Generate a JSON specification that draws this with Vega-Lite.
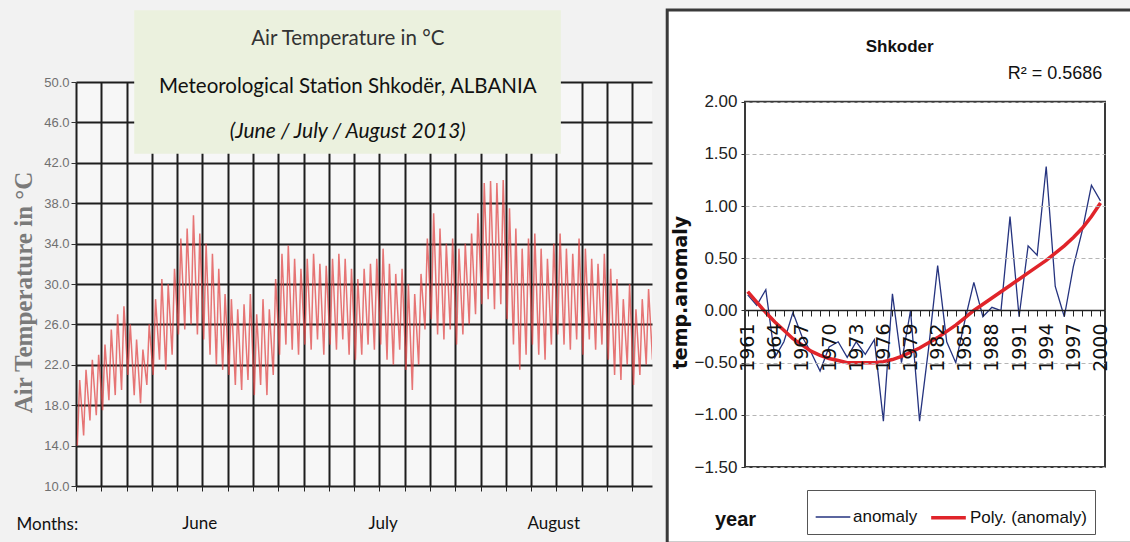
{
  "$schema": "https://vega.github.io/schema/vega-lite/v6.json",
  "background": "#f2f2f2",
  "padding": {"left": 11, "top": 8, "right": 0, "bottom": 0},
  "spacing": 13,
  "config": {"view": {"stroke": null}},
  "hconcat": [
    {
      "width": 576,
      "height": 404,
      "view": {"fill": "#f7f7f7", "stroke": null},
      "encoding": {
        "x": {"field": "date", "type": "temporal",
          "scale": {"domain": [{"year": 2013, "month": 6, "date": 1}, {"year": 2013, "month": 8, "date": 31, "hours": 3}], "nice": false},
          "axis": {
            "values": [
              {"year": 2013, "month": 6, "date": 1}, {"year": 2013, "month": 6, "date": 5}, {"year": 2013, "month": 6, "date": 9},
              {"year": 2013, "month": 6, "date": 13}, {"year": 2013, "month": 6, "date": 17}, {"year": 2013, "month": 6, "date": 21},
              {"year": 2013, "month": 6, "date": 25}, {"year": 2013, "month": 6, "date": 29}, {"year": 2013, "month": 7, "date": 3},
              {"year": 2013, "month": 7, "date": 7}, {"year": 2013, "month": 7, "date": 11}, {"year": 2013, "month": 7, "date": 15},
              {"year": 2013, "month": 7, "date": 19}, {"year": 2013, "month": 7, "date": 23}, {"year": 2013, "month": 7, "date": 27},
              {"year": 2013, "month": 7, "date": 31}, {"year": 2013, "month": 8, "date": 4}, {"year": 2013, "month": 8, "date": 8},
              {"year": 2013, "month": 8, "date": 12}, {"year": 2013, "month": 8, "date": 16}, {"year": 2013, "month": 8, "date": 20},
              {"year": 2013, "month": 8, "date": 24}, {"year": 2013, "month": 8, "date": 28},
              {"year": 2013, "month": 6, "date": 20, "hours": 12}, {"year": 2013, "month": 7, "date": 19, "hours": 12}, {"year": 2013, "month": 8, "date": 15, "hours": 12}
            ],
            "labelExpr": "hours(datum.value) == 12 ? timeFormat(datum.value, '%B') : ''",
            "labelFont": "Lato", "labelFontSize": 17, "labelColor": "#111", "labelPadding": 24,
            "labelOverlap": false, "labelFlush": false, "labelAngle": 0,
            "title": "Months:", "titleX": -60, "titleY": 38, "titleAlign": "left", "titleBaseline": "middle",
            "titleFont": "Lato", "titleFontSize": 17, "titleFontWeight": "normal", "titleColor": "#111",
            "domain": false,
            "grid": true, "gridColor": "#1e1e1e", "gridWidth": 2,
            "gridOpacity": {"condition": {"test": "hours(datum.value) != 0", "value": 0}, "value": 1},
            "ticks": true, "tickSize": 5, "tickColor": "#222",
            "tickOpacity": {"condition": {"test": "hours(datum.value) != 0", "value": 0}, "value": 1}
          }
        },
        "y": {"field": "t", "type": "quantitative",
          "scale": {"domain": [10, 50], "nice": false, "zero": false},
          "axis": {
            "values": [10, 14, 18, 22, 26, 30, 34, 38, 42, 46, 50], "format": ".1f",
            "labelFont": "Liberation Sans Narrow, Liberation Sans, sans-serif", "labelFontSize": 13, "labelColor": "#707070", "labelPadding": 2,
            "tickSize": 5, "tickColor": "#333", "domain": false,
            "grid": true, "gridColor": "#1e1e1e", "gridWidth": 2,
            "title": "Air Temperature in °C", "titleX": -53, "titleY": 210, "titleAngle": -90,
            "titleAlign": "center", "titleBaseline": "middle",
            "titleFont": "Liberation Serif", "titleFontSize": 25, "titleFontWeight": "bold", "titleColor": "#7a7a7a"
          }
        }
      },
      "layer": [
        {
          "data": {"values": [{"date": "2013-06-10T05:00", "date2": "2013-08-16T17:00", "t": 42.9, "t2": 57.1}]},
          "mark": {"type": "rect", "fill": "#ebf1de"},
          "encoding": {"x2": {"field": "date2"}, "y2": {"field": "t2"}}
        },
        {
          "data": {"values": [{"date": "2013-07-14T00:00", "t": 54.3, "label": "Air Temperature in °C"}]},
          "mark": {"type": "text", "font": "Lato", "fontSize": 20.5, "color": "#333", "baseline": "middle", "align": "center"},
          "encoding": {"text": {"field": "label"}}
        },
        {
          "data": {"values": [{"date": "2013-07-14T00:00", "t": 49.5, "label": "Meteorological Station Shkodër, ALBANIA"}]},
          "mark": {"type": "text", "font": "Lato", "fontSize": 20.5, "color": "#111", "baseline": "middle", "align": "center"},
          "encoding": {"text": {"field": "label"}}
        },
        {
          "data": {"values": [{"date": "2013-07-14T00:00", "t": 45.05, "label": "(June / July / August 2013)"}]},
          "mark": {"type": "text", "font": "Lato", "fontSize": 21, "fontStyle": "italic", "color": "#111", "baseline": "middle", "align": "center"},
          "encoding": {"text": {"field": "label"}}
        },
        {
          "data": {"values": [
            {"date": "2013-06-01T05:00", "t": 14.0}, {"date": "2013-06-01T14:00", "t": 20.5},
            {"date": "2013-06-02T05:00", "t": 15.0}, {"date": "2013-06-02T14:00", "t": 21.5},
            {"date": "2013-06-03T05:00", "t": 16.5}, {"date": "2013-06-03T14:00", "t": 22.5},
            {"date": "2013-06-04T05:00", "t": 17.0}, {"date": "2013-06-04T14:00", "t": 23.0},
            {"date": "2013-06-05T05:00", "t": 17.5}, {"date": "2013-06-05T14:00", "t": 24.0},
            {"date": "2013-06-06T05:00", "t": 18.5}, {"date": "2013-06-06T14:00", "t": 25.5},
            {"date": "2013-06-07T05:00", "t": 19.0}, {"date": "2013-06-07T14:00", "t": 27.0},
            {"date": "2013-06-08T05:00", "t": 19.5}, {"date": "2013-06-08T14:00", "t": 27.8},
            {"date": "2013-06-09T05:00", "t": 21.0}, {"date": "2013-06-09T14:00", "t": 26.0},
            {"date": "2013-06-10T05:00", "t": 19.0}, {"date": "2013-06-10T14:00", "t": 24.5},
            {"date": "2013-06-11T05:00", "t": 18.2}, {"date": "2013-06-11T14:00", "t": 23.5},
            {"date": "2013-06-12T05:00", "t": 20.0}, {"date": "2013-06-12T14:00", "t": 26.0},
            {"date": "2013-06-13T05:00", "t": 21.0}, {"date": "2013-06-13T14:00", "t": 28.5},
            {"date": "2013-06-14T05:00", "t": 22.5}, {"date": "2013-06-14T14:00", "t": 30.5},
            {"date": "2013-06-15T05:00", "t": 21.5}, {"date": "2013-06-15T14:00", "t": 30.0},
            {"date": "2013-06-16T05:00", "t": 23.0}, {"date": "2013-06-16T14:00", "t": 31.5},
            {"date": "2013-06-17T05:00", "t": 25.0}, {"date": "2013-06-17T14:00", "t": 34.5},
            {"date": "2013-06-18T05:00", "t": 25.5}, {"date": "2013-06-18T14:00", "t": 35.5},
            {"date": "2013-06-19T05:00", "t": 26.0}, {"date": "2013-06-19T14:00", "t": 36.8},
            {"date": "2013-06-20T05:00", "t": 25.0}, {"date": "2013-06-20T14:00", "t": 35.0},
            {"date": "2013-06-21T05:00", "t": 24.5}, {"date": "2013-06-21T14:00", "t": 34.0},
            {"date": "2013-06-22T05:00", "t": 23.0}, {"date": "2013-06-22T14:00", "t": 33.0},
            {"date": "2013-06-23T05:00", "t": 22.0}, {"date": "2013-06-23T14:00", "t": 31.5},
            {"date": "2013-06-24T05:00", "t": 21.5}, {"date": "2013-06-24T14:00", "t": 29.0},
            {"date": "2013-06-25T05:00", "t": 21.0}, {"date": "2013-06-25T14:00", "t": 28.5},
            {"date": "2013-06-26T05:00", "t": 20.0}, {"date": "2013-06-26T14:00", "t": 27.5},
            {"date": "2013-06-27T05:00", "t": 19.5}, {"date": "2013-06-27T14:00", "t": 28.0},
            {"date": "2013-06-28T05:00", "t": 20.5}, {"date": "2013-06-28T14:00", "t": 29.0},
            {"date": "2013-06-29T05:00", "t": 19.0}, {"date": "2013-06-29T14:00", "t": 27.0},
            {"date": "2013-06-30T05:00", "t": 20.0}, {"date": "2013-06-30T14:00", "t": 28.5},
            {"date": "2013-07-01T05:00", "t": 19.0}, {"date": "2013-07-01T14:00", "t": 27.5},
            {"date": "2013-07-02T05:00", "t": 21.0}, {"date": "2013-07-02T14:00", "t": 30.5},
            {"date": "2013-07-03T05:00", "t": 23.0}, {"date": "2013-07-03T14:00", "t": 33.0},
            {"date": "2013-07-04T05:00", "t": 24.0}, {"date": "2013-07-04T14:00", "t": 33.8},
            {"date": "2013-07-05T05:00", "t": 23.5}, {"date": "2013-07-05T14:00", "t": 32.5},
            {"date": "2013-07-06T05:00", "t": 23.0}, {"date": "2013-07-06T14:00", "t": 31.5},
            {"date": "2013-07-07T05:00", "t": 24.0}, {"date": "2013-07-07T14:00", "t": 32.5},
            {"date": "2013-07-08T05:00", "t": 23.5}, {"date": "2013-07-08T14:00", "t": 33.0},
            {"date": "2013-07-09T05:00", "t": 24.5}, {"date": "2013-07-09T14:00", "t": 32.0},
            {"date": "2013-07-10T05:00", "t": 23.0}, {"date": "2013-07-10T14:00", "t": 31.8},
            {"date": "2013-07-11T05:00", "t": 24.0}, {"date": "2013-07-11T14:00", "t": 32.5},
            {"date": "2013-07-12T05:00", "t": 23.5}, {"date": "2013-07-12T14:00", "t": 33.0},
            {"date": "2013-07-13T05:00", "t": 24.5}, {"date": "2013-07-13T14:00", "t": 32.5},
            {"date": "2013-07-14T05:00", "t": 23.0}, {"date": "2013-07-14T14:00", "t": 31.5},
            {"date": "2013-07-15T05:00", "t": 22.5}, {"date": "2013-07-15T14:00", "t": 30.5},
            {"date": "2013-07-16T05:00", "t": 23.0}, {"date": "2013-07-16T14:00", "t": 31.5},
            {"date": "2013-07-17T05:00", "t": 24.0}, {"date": "2013-07-17T14:00", "t": 32.0},
            {"date": "2013-07-18T05:00", "t": 23.5}, {"date": "2013-07-18T14:00", "t": 32.5},
            {"date": "2013-07-19T05:00", "t": 24.0}, {"date": "2013-07-19T14:00", "t": 33.5},
            {"date": "2013-07-20T05:00", "t": 22.5}, {"date": "2013-07-20T14:00", "t": 32.0},
            {"date": "2013-07-21T05:00", "t": 22.0}, {"date": "2013-07-21T14:00", "t": 31.0},
            {"date": "2013-07-22T05:00", "t": 23.5}, {"date": "2013-07-22T14:00", "t": 31.5},
            {"date": "2013-07-23T05:00", "t": 21.5}, {"date": "2013-07-23T14:00", "t": 30.0},
            {"date": "2013-07-24T05:00", "t": 19.5}, {"date": "2013-07-24T14:00", "t": 29.0},
            {"date": "2013-07-25T05:00", "t": 22.0}, {"date": "2013-07-25T14:00", "t": 31.0},
            {"date": "2013-07-26T05:00", "t": 25.5}, {"date": "2013-07-26T14:00", "t": 34.5},
            {"date": "2013-07-27T05:00", "t": 26.5}, {"date": "2013-07-27T14:00", "t": 37.0},
            {"date": "2013-07-28T05:00", "t": 25.0}, {"date": "2013-07-28T14:00", "t": 35.5},
            {"date": "2013-07-29T05:00", "t": 24.5}, {"date": "2013-07-29T14:00", "t": 34.0},
            {"date": "2013-07-30T05:00", "t": 25.5}, {"date": "2013-07-30T14:00", "t": 34.5},
            {"date": "2013-07-31T05:00", "t": 24.0}, {"date": "2013-07-31T14:00", "t": 33.5},
            {"date": "2013-08-01T05:00", "t": 25.0}, {"date": "2013-08-01T14:00", "t": 34.0},
            {"date": "2013-08-02T05:00", "t": 26.0}, {"date": "2013-08-02T14:00", "t": 35.0},
            {"date": "2013-08-03T05:00", "t": 27.0}, {"date": "2013-08-03T14:00", "t": 37.0},
            {"date": "2013-08-04T05:00", "t": 28.0}, {"date": "2013-08-04T14:00", "t": 40.0},
            {"date": "2013-08-05T05:00", "t": 28.5}, {"date": "2013-08-05T14:00", "t": 40.2},
            {"date": "2013-08-06T05:00", "t": 27.5}, {"date": "2013-08-06T14:00", "t": 40.0},
            {"date": "2013-08-07T05:00", "t": 28.0}, {"date": "2013-08-07T14:00", "t": 40.3},
            {"date": "2013-08-08T05:00", "t": 26.5}, {"date": "2013-08-08T14:00", "t": 37.5},
            {"date": "2013-08-09T05:00", "t": 24.0}, {"date": "2013-08-09T14:00", "t": 35.5},
            {"date": "2013-08-10T05:00", "t": 21.5}, {"date": "2013-08-10T14:00", "t": 33.5},
            {"date": "2013-08-11T05:00", "t": 23.0}, {"date": "2013-08-11T14:00", "t": 34.5},
            {"date": "2013-08-12T05:00", "t": 24.0}, {"date": "2013-08-12T14:00", "t": 35.0},
            {"date": "2013-08-13T05:00", "t": 23.0}, {"date": "2013-08-13T14:00", "t": 33.5},
            {"date": "2013-08-14T05:00", "t": 22.5}, {"date": "2013-08-14T14:00", "t": 32.5},
            {"date": "2013-08-15T05:00", "t": 24.0}, {"date": "2013-08-15T14:00", "t": 34.0},
            {"date": "2013-08-16T05:00", "t": 25.0}, {"date": "2013-08-16T14:00", "t": 35.0},
            {"date": "2013-08-17T05:00", "t": 24.0}, {"date": "2013-08-17T14:00", "t": 33.5},
            {"date": "2013-08-18T05:00", "t": 23.5}, {"date": "2013-08-18T14:00", "t": 33.0},
            {"date": "2013-08-19T05:00", "t": 24.5}, {"date": "2013-08-19T14:00", "t": 34.5},
            {"date": "2013-08-20T05:00", "t": 23.0}, {"date": "2013-08-20T14:00", "t": 33.5},
            {"date": "2013-08-21T05:00", "t": 24.5}, {"date": "2013-08-21T14:00", "t": 32.5},
            {"date": "2013-08-22T05:00", "t": 23.5}, {"date": "2013-08-22T14:00", "t": 32.0},
            {"date": "2013-08-23T05:00", "t": 24.0}, {"date": "2013-08-23T14:00", "t": 33.0},
            {"date": "2013-08-24T05:00", "t": 22.5}, {"date": "2013-08-24T14:00", "t": 31.5},
            {"date": "2013-08-25T05:00", "t": 21.0}, {"date": "2013-08-25T14:00", "t": 30.5},
            {"date": "2013-08-26T05:00", "t": 20.5}, {"date": "2013-08-26T14:00", "t": 28.5},
            {"date": "2013-08-27T05:00", "t": 22.0}, {"date": "2013-08-27T14:00", "t": 30.0},
            {"date": "2013-08-28T05:00", "t": 20.0}, {"date": "2013-08-28T14:00", "t": 27.5},
            {"date": "2013-08-29T05:00", "t": 21.0}, {"date": "2013-08-29T14:00", "t": 28.5},
            {"date": "2013-08-30T05:00", "t": 22.0}, {"date": "2013-08-30T14:00", "t": 29.5},
            {"date": "2013-08-31T05:00", "t": 22.5}, {"date": "2013-08-31T14:00", "t": 28.0}
          ]},
          "mark": {"type": "line", "color": "#e04848", "strokeWidth": 1.5, "opacity": 0.75, "clip": true}
        }
      ]
    },
    {
      "width": 360,
      "height": 385,
      "encoding": {
        "x": {"field": "year", "type": "quantitative",
          "scale": {"domain": [1960.7, 2000.5], "nice": false, "zero": false},
          "axis": {
            "values": [1961, 1962, 1963, 1964, 1965, 1966, 1967, 1968, 1969, 1970, 1971, 1972, 1973, 1974, 1975, 1976, 1977, 1978, 1979, 1980, 1981, 1982, 1983, 1984, 1985, 1986, 1987, 1988, 1989, 1990, 1991, 1992, 1993, 1994, 1995, 1996, 1997, 1998, 1999, 2000],
            "format": "d",
            "labelExpr": "(datum.value - 1961) % 3 == 0 ? datum.label : ''",
            "labelAngle": -90, "labelFont": "DejaVu Sans", "labelFontSize": 19, "labelColor": "#111",
            "labelPadding": 7, "labelOverlap": false, "labelFlush": false,
            "offset": -157,
            "domainColor": "#222", "domainWidth": 1.5, "tickColor": "#222", "tickSize": 6, "grid": false,
            "title": "year", "titleX": -10, "titleY": 209, "titleAlign": "center", "titleBaseline": "middle",
            "titleFont": "Liberation Sans", "titleFontSize": 20, "titleFontWeight": "bold", "titleColor": "#111",
            "zindex": 1
          }
        },
        "y": {"field": "anomaly", "type": "quantitative",
          "scale": {"domain": [-1.5, 2.19], "nice": false, "zero": false},
          "axis": {
            "values": [-1.5, -1, -0.5, 0, 0.5, 1, 1.5, 2], "format": ".2f",
            "grid": true, "gridDash": [4, 3], "gridColor": "#b5b5b5", "gridWidth": 1,
            "domain": false, "tickSize": 4, "tickColor": "#333",
            "labelFont": "Liberation Sans", "labelFontSize": 17, "labelColor": "#222", "labelPadding": 4,
            "title": "temp.anomaly", "titleX": -65, "titleY": 210, "titleAngle": -90,
            "titleAlign": "center", "titleBaseline": "middle",
            "titleFont": "DejaVu Sans", "titleFontSize": 19, "titleFontWeight": "bold", "titleColor": "#111",
            "zindex": 1
          }
        }
      },
      "layer": [
        {
          "data": {"values": [{"year": 1952.1, "year2": 2004, "anomaly": -2.23, "anomaly2": 2.88}]},
          "mark": {"type": "rect", "fill": "white", "stroke": "#3a3a3a", "strokeWidth": 3},
          "encoding": {"x2": {"field": "year2"}, "y2": {"field": "anomaly2"}}
        },
        {
          "data": {"values": [
            {"year": 1961, "anomaly": 0.15, "series": "anomaly"}, {"year": 1962, "anomaly": 0.05, "series": "anomaly"},
            {"year": 1963, "anomaly": 0.2, "series": "anomaly"}, {"year": 1964, "anomaly": -0.45, "series": "anomaly"},
            {"year": 1965, "anomaly": -0.3, "series": "anomaly"}, {"year": 1966, "anomaly": -0.02, "series": "anomaly"},
            {"year": 1967, "anomaly": -0.25, "series": "anomaly"}, {"year": 1968, "anomaly": -0.4, "series": "anomaly"},
            {"year": 1969, "anomaly": -0.58, "series": "anomaly"}, {"year": 1970, "anomaly": -0.35, "series": "anomaly"},
            {"year": 1971, "anomaly": -0.3, "series": "anomaly"}, {"year": 1972, "anomaly": -0.45, "series": "anomaly"},
            {"year": 1973, "anomaly": -0.3, "series": "anomaly"}, {"year": 1974, "anomaly": -0.42, "series": "anomaly"},
            {"year": 1975, "anomaly": -0.28, "series": "anomaly"}, {"year": 1976, "anomaly": -1.06, "series": "anomaly"},
            {"year": 1977, "anomaly": 0.16, "series": "anomaly"}, {"year": 1978, "anomaly": -0.5, "series": "anomaly"},
            {"year": 1979, "anomaly": 0.0, "series": "anomaly"}, {"year": 1980, "anomaly": -1.06, "series": "anomaly"},
            {"year": 1981, "anomaly": -0.36, "series": "anomaly"}, {"year": 1982, "anomaly": 0.43, "series": "anomaly"},
            {"year": 1983, "anomaly": -0.3, "series": "anomaly"}, {"year": 1984, "anomaly": -0.5, "series": "anomaly"},
            {"year": 1985, "anomaly": -0.1, "series": "anomaly"}, {"year": 1986, "anomaly": 0.27, "series": "anomaly"},
            {"year": 1987, "anomaly": -0.06, "series": "anomaly"}, {"year": 1988, "anomaly": 0.03, "series": "anomaly"},
            {"year": 1989, "anomaly": 0.0, "series": "anomaly"}, {"year": 1990, "anomaly": 0.9, "series": "anomaly"},
            {"year": 1991, "anomaly": -0.06, "series": "anomaly"}, {"year": 1992, "anomaly": 0.62, "series": "anomaly"},
            {"year": 1993, "anomaly": 0.53, "series": "anomaly"}, {"year": 1994, "anomaly": 1.38, "series": "anomaly"},
            {"year": 1995, "anomaly": 0.23, "series": "anomaly"}, {"year": 1996, "anomaly": -0.06, "series": "anomaly"},
            {"year": 1997, "anomaly": 0.42, "series": "anomaly"}, {"year": 1998, "anomaly": 0.77, "series": "anomaly"},
            {"year": 1999, "anomaly": 1.2, "series": "anomaly"}, {"year": 2000, "anomaly": 1.05, "series": "anomaly"},
            {"year": 1961, "anomaly": 0.18, "series": "Poly. (anomaly)"}, {"year": 1962, "anomaly": 0.08, "series": "Poly. (anomaly)"},
            {"year": 1963, "anomaly": -0.02, "series": "Poly. (anomaly)"}, {"year": 1964, "anomaly": -0.11, "series": "Poly. (anomaly)"},
            {"year": 1965, "anomaly": -0.19, "series": "Poly. (anomaly)"}, {"year": 1966, "anomaly": -0.27, "series": "Poly. (anomaly)"},
            {"year": 1967, "anomaly": -0.33, "series": "Poly. (anomaly)"}, {"year": 1968, "anomaly": -0.39, "series": "Poly. (anomaly)"},
            {"year": 1969, "anomaly": -0.43, "series": "Poly. (anomaly)"}, {"year": 1970, "anomaly": -0.46, "series": "Poly. (anomaly)"},
            {"year": 1971, "anomaly": -0.48, "series": "Poly. (anomaly)"}, {"year": 1972, "anomaly": -0.5, "series": "Poly. (anomaly)"},
            {"year": 1973, "anomaly": -0.5, "series": "Poly. (anomaly)"}, {"year": 1974, "anomaly": -0.5, "series": "Poly. (anomaly)"},
            {"year": 1975, "anomaly": -0.5, "series": "Poly. (anomaly)"}, {"year": 1976, "anomaly": -0.49, "series": "Poly. (anomaly)"},
            {"year": 1977, "anomaly": -0.47, "series": "Poly. (anomaly)"}, {"year": 1978, "anomaly": -0.44, "series": "Poly. (anomaly)"},
            {"year": 1979, "anomaly": -0.4, "series": "Poly. (anomaly)"}, {"year": 1980, "anomaly": -0.36, "series": "Poly. (anomaly)"},
            {"year": 1981, "anomaly": -0.31, "series": "Poly. (anomaly)"}, {"year": 1982, "anomaly": -0.26, "series": "Poly. (anomaly)"},
            {"year": 1983, "anomaly": -0.2, "series": "Poly. (anomaly)"}, {"year": 1984, "anomaly": -0.14, "series": "Poly. (anomaly)"},
            {"year": 1985, "anomaly": -0.07, "series": "Poly. (anomaly)"}, {"year": 1986, "anomaly": 0.0, "series": "Poly. (anomaly)"},
            {"year": 1987, "anomaly": 0.06, "series": "Poly. (anomaly)"}, {"year": 1988, "anomaly": 0.12, "series": "Poly. (anomaly)"},
            {"year": 1989, "anomaly": 0.18, "series": "Poly. (anomaly)"}, {"year": 1990, "anomaly": 0.24, "series": "Poly. (anomaly)"},
            {"year": 1991, "anomaly": 0.3, "series": "Poly. (anomaly)"}, {"year": 1992, "anomaly": 0.36, "series": "Poly. (anomaly)"},
            {"year": 1993, "anomaly": 0.42, "series": "Poly. (anomaly)"}, {"year": 1994, "anomaly": 0.48, "series": "Poly. (anomaly)"},
            {"year": 1995, "anomaly": 0.55, "series": "Poly. (anomaly)"}, {"year": 1996, "anomaly": 0.62, "series": "Poly. (anomaly)"},
            {"year": 1997, "anomaly": 0.7, "series": "Poly. (anomaly)"}, {"year": 1998, "anomaly": 0.79, "series": "Poly. (anomaly)"},
            {"year": 1999, "anomaly": 0.9, "series": "Poly. (anomaly)"}, {"year": 2000, "anomaly": 1.03, "series": "Poly. (anomaly)"}
          ]},
          "mark": {"type": "line"},
          "encoding": {
            "color": {"field": "series", "type": "nominal",
              "scale": {"domain": ["anomaly", "Poly. (anomaly)"], "range": ["#25337f", "#e0242a"]},
              "legend": {"orient": "none", "legendX": 731, "legendY": 408, "direction": "horizontal", "title": null,
                "symbolType": "stroke", "symbolSize": 1200, "labelFont": "Liberation Sans Narrow, Liberation Sans, sans-serif", "labelFontSize": 17,
                "labelColor": "#111", "labelLimit": 300, "columnPadding": 6, "labelOffset": 2,
                "fillColor": "white", "strokeColor": "#555", "padding": 8}
            },
            "strokeWidth": {"field": "series", "type": "nominal",
              "scale": {"domain": ["anomaly", "Poly. (anomaly)"], "range": [1.3, 3.5]}}
          }
        },
        {
          "data": {"values": [{"year": 1977.8, "anomaly": 2.53, "label": "Shkoder"}]},
          "mark": {"type": "text", "font": "Liberation Sans", "fontSize": 17, "fontWeight": "bold", "color": "#111", "align": "center", "baseline": "middle"},
          "encoding": {"text": {"field": "label"}}
        },
        {
          "data": {"values": [{"year": 2000.2, "anomaly": 2.27, "label": "R² = 0.5686"}]},
          "mark": {"type": "text", "font": "Liberation Sans", "fontSize": 18, "color": "#111", "align": "right", "baseline": "middle"},
          "encoding": {"text": {"field": "label"}}
        },
        {
          "data": {"values": [{"year": 1960.7, "year2": 2000.5, "anomaly": -1.5, "anomaly2": 2}]},
          "mark": {"type": "rect", "fillOpacity": 0, "stroke": "#3a3a3a", "strokeWidth": 2},
          "encoding": {"x2": {"field": "year2"}, "y2": {"field": "anomaly2"}}
        }
      ]
    }
  ]
}
